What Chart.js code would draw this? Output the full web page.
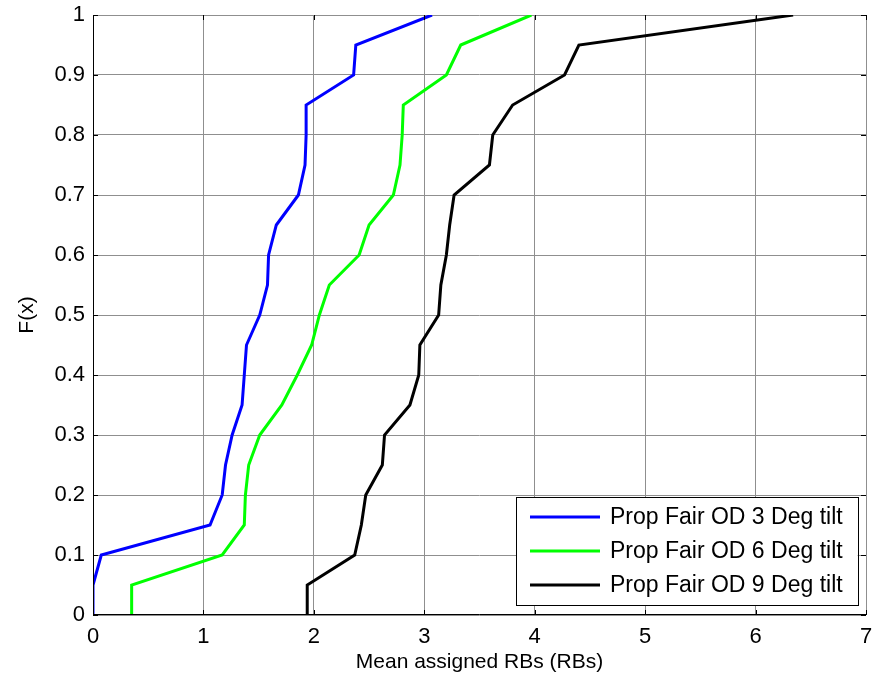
<!DOCTYPE html>
<html>
<head>
<meta charset="utf-8">
<script src="https://cdn.jsdelivr.net/npm/chart.js@4/dist/chart.umd.min.js"></script>
<style>
  html, body { margin: 0; padding: 0; background: #fff; }
  #wrap { width: 875px; height: 684px; position: relative; }
</style>
</head>
<body>
<div id="wrap"><canvas id="cdf"></canvas></div>
<script>
// CDF levels (y) shared by all three curves
const fLevels = [0, 0.05, 0.1, 0.15, 0.2, 0.25, 0.3, 0.35, 0.4, 0.45, 0.5,
                 0.55, 0.6, 0.65, 0.7, 0.75, 0.8, 0.85, 0.9, 0.95, 1];

// mean assigned RBs at each level
const tilt3 = [0, 0, 0.075, 1.06, 1.17, 1.2, 1.26, 1.35, 1.37, 1.39, 1.51,
               1.58, 1.59, 1.66, 1.86, 1.92, 1.93, 1.93, 2.36, 2.38, 3.07];
const tilt6 = [0.35, 0.35, 1.17, 1.37, 1.38, 1.41, 1.51, 1.71, 1.85, 1.98, 2.05,
               2.14, 2.41, 2.5, 2.72, 2.78, 2.8, 2.81, 3.2, 3.33, 3.97];
const tilt9 = [1.94, 1.94, 2.37, 2.43, 2.47, 2.62, 2.64, 2.87, 2.95, 2.96, 3.13,
               3.15, 3.2, 3.23, 3.27, 3.59, 3.62, 3.8, 4.27, 4.4, 6.34];

const seriesLabels = ["Prop Fair OD 3 Deg tilt", "Prop Fair OD 6 Deg tilt", "Prop Fair OD 9 Deg tilt"];
const xTicks = [0, 1, 2, 3, 4, 5, 6, 7];
const yTicks = [0, 0.1, 0.2, 0.3, 0.4, 0.5, 0.6, 0.7, 0.8, 0.9, 1];

const FONT = "'Liberation Sans', Arial, sans-serif";
const colors = ["#0000ff", "#00ff00", "#000000"];

function toPoints(xs) {
  return xs.map((x, i) => ({ x: x, y: fLevels[i] }));
}

// axis lines, inward ticks and in-axes legend, MATLAB style
const frame = {
  id: "frame",
  afterDraw(chart) {
    const c = chart.ctx;
    const a = chart.chartArea;
    const sx = chart.scales.x, sy = chart.scales.y;
    c.save();
    c.strokeStyle = "#000";
    c.lineWidth = 1;
    c.beginPath();
    c.moveTo(a.left + 0.5, a.top);
    c.lineTo(a.left + 0.5, a.bottom - 0.5);
    c.lineTo(a.right, a.bottom - 0.5);
    xTicks.forEach(v => {
      const px = Math.round(sx.getPixelForValue(v)) + 0.5;
      c.moveTo(px, a.bottom); c.lineTo(px, a.bottom - 5);
      c.moveTo(px, a.top); c.lineTo(px, a.top + 5);
    });
    yTicks.forEach(v => {
      const py = Math.round(sy.getPixelForValue(v)) + 0.5;
      c.moveTo(a.left, py); c.lineTo(a.left + 5, py);
      c.moveTo(a.right, py); c.lineTo(a.right - 5, py);
    });
    c.stroke();

    // legend
    c.font = "23px " + FONT;
    const ds = chart.data.datasets;
    let tw = 0;
    ds.forEach(d => { tw = Math.max(tw, c.measureText(d.label).width); });
    const rowH = 34;
    const boxW = tw + 109;
    const boxH = rowH * ds.length + 6;
    const bx = Math.round(a.right - 8 - boxW);
    const by = Math.round(a.bottom - 10 - boxH);
    c.fillStyle = "#fff";
    c.fillRect(bx, by, boxW, boxH);
    c.strokeStyle = "#000";
    c.strokeRect(bx + 0.5, by + 0.5, Math.round(boxW), Math.round(boxH));
    ds.forEach((d, i) => {
      const ry = by + 20 + i * rowH;
      c.strokeStyle = d.borderColor;
      c.lineWidth = 3;
      c.beginPath();
      c.moveTo(bx + 14, ry);
      c.lineTo(bx + 84, ry);
      c.stroke();
      c.fillStyle = "#000";
      c.textBaseline = "middle";
      c.textAlign = "left";
      c.fillText(d.label, bx + 94, ry + 1);
    });
    c.restore();
  }
};

const data = {
  datasets: [tilt3, tilt6, tilt9].map((xs, i) => ({
    label: seriesLabels[i],
    data: toPoints(xs),
    borderColor: colors[i],
    backgroundColor: colors[i],
    borderWidth: 3,
    pointRadius: 0,
    tension: 0,
    fill: false,
    order: 2 - i,
  })),
};

const config = {
  type: "line",
  data,
  options: {
    responsive: false,
    animation: false,
    layout: { padding: { top: 15, right: 9, left: 0, bottom: 0 } },
    scales: {
      x: {
        type: "linear",
        min: 0,
        max: 7,
        afterBuildTicks: (s) => { s.ticks = xTicks.map(v => ({ value: v })); },
        afterFit: (s) => { s.height = 69; s.paddingLeft = 0; s.paddingRight = 0; },
        grid: { color: "#8f8f8f", lineWidth: 1, drawTicks: false },
        border: { display: false },
        ticks: { color: "#000", font: { family: FONT, size: 22 }, padding: 9, maxRotation: 0 },
        title: {
          display: true,
          text: "Mean assigned RBs (RBs)",
          color: "#000",
          font: { family: FONT, size: 21 },
          padding: { top: 0, bottom: 9 },
        },
      },
      y: {
        type: "linear",
        min: 0,
        max: 1,
        afterBuildTicks: (s) => { s.ticks = yTicks.map(v => ({ value: v })); },
        afterFit: (s) => { s.width = 93; s.paddingTop = 0; s.paddingBottom = 0; },
        grid: { color: "#8f8f8f", lineWidth: 1, drawTicks: false },
        border: { display: false },
        ticks: {
          color: "#000",
          font: { family: FONT, size: 22 },
          padding: 8,
          callback: (v) => String(Math.round(v * 10) / 10),
        },
        title: {
          display: true,
          text: "F(x)",
          color: "#000",
          font: { family: FONT, size: 21 },
          padding: { top: 15, bottom: 0 },
        },
      },
    },
    plugins: {
      legend: { display: false },
      tooltip: { enabled: false },
    },
  },
  plugins: [frame],
};

const canvas = document.getElementById("cdf");
canvas.width = 875;
canvas.height = 684;
const myChart = new Chart(canvas, config);
</script>
</body>
</html>
